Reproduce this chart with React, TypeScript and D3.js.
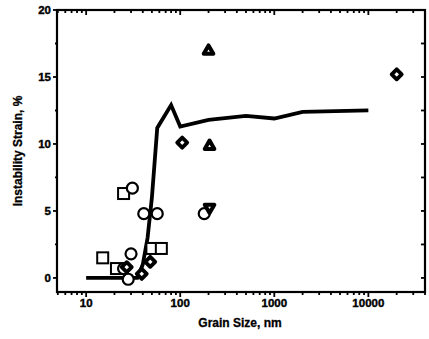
import React from "react";
import * as d3 from "d3";

const W = 429;
const H = 339;

// Data (grain size nm, instability strain %)
const lineX = [10, 35, 40, 45, 50, 57, 80, 100, 200, 500, 1000, 2000, 10000];
const lineY = [0, 0, 1.0, 3.0, 6.0, 11.2, 12.9, 11.3, 11.8, 12.1, 11.9, 12.4, 12.5];

const squareX = [15, 21, 25, 50, 63];
const squareY = [1.5, 0.7, 6.3, 2.2, 2.2];

const circleX = [31, 41, 57, 30, 25, 28, 180];
const circleY = [6.7, 4.8, 4.8, 1.8, 0.7, -0.1, 4.8];

const diamondX = [27, 39, 48, 105, 20000];
const diamondY = [0.8, 0.3, 1.2, 10.1, 15.2];

const triUpX = [200, 205];
const triUpY = [17, 9.9];

const triDownX = [205];
const triDownY = [5.2];

const yTicks = [0, 5, 10, 15, 20];
const xTicks = [10, 100, 1000, 10000];

const left = 57, right = 425, top = 10, bottom = 292;

export default function App() {
  const x = d3.scaleLog().domain([4.9, 40000]).range([left, right]);
  const y = d3.scaleLinear().domain([-1.05, 20]).range([bottom, top]);

  const line = d3.line<number>()
    .x((_, i) => x(lineX[i]))
    .y((d) => y(d))
    .curve(d3.curveLinear);

  const minorX: number[] = [];
  for (let e = 0; e <= 4; e++) {
    for (let m = 1; m <= 9; m++) {
      const v = m * Math.pow(10, e);
      if (v >= 5 && v <= 40000) minorX.push(v);
    }
  }
  const yMinor = d3.range(0, 20.01, 2.5);

  const sq = 5.5;
  const font = "'Liberation Sans', Arial, sans-serif";

  return (
    <svg width={W} height={H} style={{ position: "absolute", left: 0, top: 0, background: "#fff" }}>
      {/* frame */}
      <rect x={left} y={top} width={right - left} height={bottom - top} fill="none" stroke="#000" strokeWidth={2.2} />
      {/* x ticks */}
      {minorX.map((v, i) => {
        const major = Math.abs(Math.log10(v) - Math.round(Math.log10(v))) < 1e-9;
        const len = major ? 5 : 3;
        return (
          <g key={"xt" + i}>
            <line x1={x(v)} x2={x(v)} y1={bottom} y2={bottom + len} stroke="#000" strokeWidth={1.8} />
            <line x1={x(v)} x2={x(v)} y1={top} y2={top + len} stroke="#000" strokeWidth={1.8} />
          </g>
        );
      })}
      {xTicks.map((v) => (
        <text key={"xl" + v} x={x(v)} y={307} textAnchor="middle" fontFamily={font} fontWeight="bold" fontSize={11.5} stroke="#000" strokeWidth={0.4}>
          {v}
        </text>
      ))}
      {/* y ticks */}
      {yMinor.map((v, i) => {
        const major = v % 5 === 0;
        return (
          <g key={"yt" + i}>
            <line x1={left - (major ? 4 : 2)} x2={left} y1={y(v)} y2={y(v)} stroke="#000" strokeWidth={1.8} />
            <line x1={right - 4} x2={right} y1={y(v)} y2={y(v)} stroke="#000" strokeWidth={1.8} />
          </g>
        );
      })}
      {yTicks.map((v) => (
        <text key={"yl" + v} x={left - 6} y={y(v) + 4} textAnchor="end" fontFamily={font} fontWeight="bold" fontSize={11.5} stroke="#000" strokeWidth={0.4}>
          {v}
        </text>
      ))}
      {/* axis labels */}
      <text x={240} y={327} textAnchor="middle" fontFamily={font} fontWeight="bold" fontSize={12} stroke="#000" strokeWidth={0.3}>
        Grain Size, nm
      </text>
      <text
        transform={`translate(22, ${(top + bottom) / 2}) rotate(-90)`}
        textAnchor="middle"
        fontFamily={font}
        fontWeight="bold"
        fontSize={12}
        stroke="#000"
        strokeWidth={0.3}
      >
        Instability Strain, %
      </text>

      {/* line */}
      <path d={line(lineY) || ""} fill="none" stroke="#000" strokeWidth={3.8} strokeLinejoin="miter" />

      {/* squares */}
      {squareX.map((v, i) => (
        <rect key={"s" + i} x={x(v) - sq} y={y(squareY[i]) - sq} width={sq * 2} height={sq * 2} fill="#fff" stroke="#000" strokeWidth={2} />
      ))}
      {/* circles */}
      {circleX.map((v, i) => (
        <circle key={"c" + i} cx={x(v)} cy={y(circleY[i])} r={5.5} fill="#fff" stroke="#000" strokeWidth={2.2} />
      ))}
      {/* diamonds */}
      {diamondX.map((v, i) => {
        const cx = x(v), cy = y(diamondY[i]), r = 5;
        return (
          <path key={"d" + i} d={`M${cx},${cy - r}L${cx + r},${cy}L${cx},${cy + r}L${cx - r},${cy}Z`} fill="#fff" stroke="#000" strokeWidth={3.8} strokeLinejoin="round" />
        );
      })}
      {/* triangles up */}
      {triUpX.map((v, i) => {
        const cx = x(v), cy = y(triUpY[i]), r = 4.8;
        return (
          <path key={"tu" + i} d={`M${cx},${cy - r}L${cx + r},${cy + r * 0.75}L${cx - r},${cy + r * 0.75}Z`} fill="#fff" stroke="#000" strokeWidth={4} strokeLinejoin="round" />
        );
      })}
      {/* triangles down */}
      {triDownX.map((v, i) => {
        const cx = x(v), cy = y(triDownY[i]), r = 4.8;
        return (
          <path key={"td" + i} d={`M${cx},${cy + r}L${cx + r},${cy - r * 0.75}L${cx - r},${cy - r * 0.75}Z`} fill="#fff" stroke="#000" strokeWidth={4} strokeLinejoin="round" />
        );
      })}
    </svg>
  );
}
